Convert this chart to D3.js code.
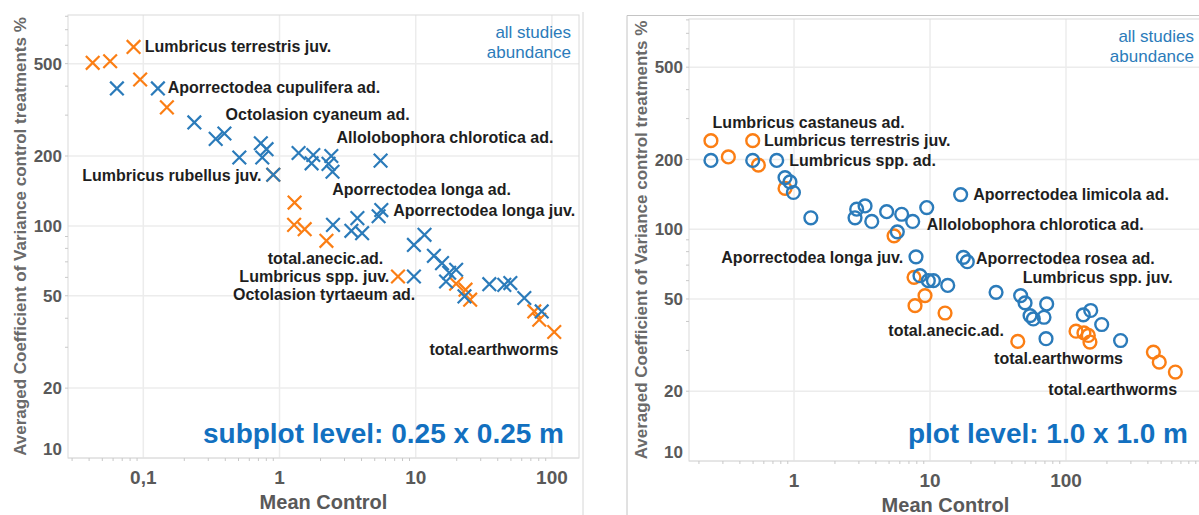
<!DOCTYPE html>
<html>

<head>
    <title>Earthworm CV vs Mean Control</title>
    <script src="https://cdn.jsdelivr.net/npm/d3@7"></script>
    <style>
        body {
            margin: 0;
            background: #fff;
        }

        svg text {
            font-family: Arial, "Liberation Sans", sans-serif;
        }
    </style>
</head>

<body>
    <div id="svg"></div>
    <script>
        // subplot level 0.25 x 0.25 m  -  [mean control, averaged CV %]
        var subplotBlue = [
            [0.064, 391], [0.128, 391], [0.237, 279], [0.340, 237], [0.394, 250], [0.507, 197],
            [0.729, 227], [0.803, 214], [0.747, 197], [0.90, 166], [1.38, 206], [1.77, 202],
            [1.72, 186], [2.40, 200], [2.29, 185], [2.45, 171], [5.52, 191], [2.47, 101],
            [3.37, 95.2], [3.73, 108], [4.04, 93.0], [5.34, 110], [5.59, 117], [9.70, 82.8],
            [11.6, 91.5], [9.70, 60.5], [13.6, 74.3], [15.6, 69.1], [16.7, 57.6], [17.6, 62.8],
            [19.8, 64.7], [22.8, 49.7], [34.7, 56.1], [44.7, 55.7], [49.5, 56.7], [62.7, 48.9],
            [84.1, 42.8]
        ];
        var subplotOrange = [
            [0.0425, 504], [0.0571, 512], [0.0848, 590], [0.0948, 427], [0.149, 324], [0.90, 166],
            [1.29, 126], [1.28, 101], [1.53, 96.8], [2.21, 86.2], [7.41, 60.5], [19.8, 56.3],
            [23.2, 53.1], [25.1, 48.1], [74.2, 42.8], [80.7, 39.4], [104, 34.9]
        ];
        var subplotLabels = [
            ["Lumbricus terrestris juv.", 0.1026, 594, "start"],
            ["Aporrectodea cupulifera ad.", 0.151, 396, "start"],
            ["Octolasion cyaneum ad.", 0.402, 303, "start"],
            ["Allolobophora chlorotica ad.", 2.62, 241, "start"],
            ["Lumbricus rubellus juv.", 0.738, 166, "end"],
            ["Aporrectodea longa ad.", 2.44, 144, "start"],
            ["Aporrectodea longa juv.", 6.84, 117, "start"],
            ["total.anecic.ad.", 5.78, 72.9, "end"],
            ["Lumbricus spp. juv.", 6.40, 60.5, "end"],
            ["Octolasion tyrtaeum ad.", 9.92, 51.0, "end"],
            ["total.earthworms", 12.6, 29.3, "start"]
        ];

        // plot level 1.0 x 1.0 m
        var plotBlue = [
            [0.245, 198], [0.497, 198], [0.746, 198], [0.859, 167], [0.934, 160], [0.99, 144],
            [1.33, 112], [2.81, 112], [2.89, 122], [3.33, 126], [3.73, 108], [4.80, 119],
            [6.19, 116], [7.46, 108], [9.46, 124], [5.75, 97.4], [7.89, 76.0], [8.44, 63.0],
            [9.72, 60.0], [10.6, 60.0], [13.5, 57.2], [16.8, 141], [17.6, 75.6], [18.8, 72.4],
            [30.6, 53.4], [46.4, 51.7], [50.0, 48.1], [72.1, 47.6], [54.4, 42.4], [57.5, 41.0],
            [68.9, 41.7], [71.3, 33.7], [134, 42.7], [152, 44.6], [183, 38.8], [252, 33.1]
        ];
        var plotOrange = [
            [0.245, 241], [0.497, 241], [0.329, 205], [0.547, 189], [0.859, 150], [5.44, 93.6],
            [7.63, 62.0], [9.19, 51.7], [7.76, 46.8], [12.9, 43.5], [44.2, 32.8], [118.5, 36.3],
            [135.5, 35.7], [145.9, 34.8], [150, 32.6], [439, 29.5], [485, 26.7], [637, 24.2]
        ];
        var plotLabels = [
            ["Lumbricus castaneus ad.", 0.252, 289, "start"],
            ["Lumbricus terrestris juv.", 0.602, 242, "start"],
            ["Lumbricus spp. ad.", 0.923, 198, "start"],
            ["Aporrectodea limicola ad.", 20.8, 142, "start"],
            ["Allolobophora chlorotica ad.", 9.46, 105, "start"],
            ["Aporrectodea longa juv.", 6.36, 75.5, "end"],
            ["Aporrectodea rosea ad.", 21.8, 75.0, "start"],
            ["Lumbricus spp. juv.", 48.1, 62.0, "start"],
            ["total.anecic.ad.", 4.94, 36.5, "start"],
            ["total.earthworms", 29.6, 27.8, "start"],
            ["total.earthworms", 74.1, 20.3, "start"]
        ];

        var yTicks = [10, 20, 50, 100, 200, 500];
        var subplotXTicks = [0.1, 1, 10, 100];
        var subplotXTickLabels = ["0,1", "1", "10", "100"];
        var plotXTicks = [1, 10, 100];
        var plotXTickLabels = ["1", "10", "100"];

        var blue = "#2b7bba", orange = "#fb7e14", titleBlue = "#1270c0", grey = "#595959";

        var svg = d3.select("#svg")
            .append("svg")
            .attr("width", 1199)
            .attr("height", 515);

        // panel borders
        svg.append("line").attr("x1", 583).attr("x2", 583).attr("y1", 12).attr("y2", 515)
            .style("stroke", "#d6d6d6");
        svg.append("path").attr("d", "M627,515V15.5H1199")
            .style("fill", "none").style("stroke", "#c4c4c4");

        function drawPanel(p) {
            var x = d3.scaleLog().domain(p.xDomain).range([p.left, p.right]);
            var y = d3.scaleLog().domain(p.yDomain).range([p.bottom, p.top]);
            var g = svg.append("g");

            var minorX = [], minorY = [];
            [0.01, 0.1, 1, 10, 100, 1000].forEach(function (d) {
                for (var k = 2; k < 10; k++) {
                    if (d * k > p.xDomain[0] && d * k < p.xDomain[1]) minorX.push(d * k);
                    if (d * k > p.yDomain[0] && d * k < p.yDomain[1]) minorY.push(d * k);
                }
            });

            // grid
            g.selectAll(".gx").data(p.xTicks).enter().append("line")
                .attr("x1", function (d) { return x(d) }).attr("x2", function (d) { return x(d) })
                .attr("y1", p.top).attr("y2", p.bottom)
                .style("stroke", "#ececec").style("stroke-width", 1.5);
            g.selectAll(".gy").data(yTicks).enter().append("line")
                .attr("x1", p.left).attr("x2", p.right)
                .attr("y1", function (d) { return y(d) }).attr("y2", function (d) { return y(d) })
                .style("stroke", "#ececec").style("stroke-width", 1.5);

            // frame
            g.append("rect").attr("x", p.left).attr("y", p.top)
                .attr("width", p.right - p.left).attr("height", p.bottom - p.top)
                .style("fill", "none").style("stroke", "#dadada");

            // minor ticks
            g.selectAll(".mx").data(minorX).enter().append("line")
                .attr("x1", function (d) { return x(d) }).attr("x2", function (d) { return x(d) })
                .attr("y1", p.bottom).attr("y2", p.bottom + 3)
                .style("stroke", "#c8c8c8");
            g.selectAll(".my").data(minorY).enter().append("line")
                .attr("x1", p.left - 3).attr("x2", p.left)
                .attr("y1", function (d) { return y(d) }).attr("y2", function (d) { return y(d) })
                .style("stroke", "#c8c8c8");

            // tick labels
            g.selectAll(".ty").data(yTicks).enter().append("text")
                .attr("x", p.left - 6)
                .attr("y", function (d) { return d === p.yDomain[0] ? y(d) - 9 : y(d) })
                .attr("dy", "0.36em")
                .style("text-anchor", "end").style("font-size", "17px").style("font-weight", "bold")
                .style("fill", grey)
                .text(function (d) { return d });
            g.selectAll(".tx").data(p.xTicks).enter().append("text")
                .attr("x", function (d) { return x(d) })
                .attr("y", p.bottom + 26)
                .style("text-anchor", "middle").style("font-size", "19px").style("font-weight", "bold")
                .style("fill", grey)
                .text(function (d, i) { return p.xTickLabels[i] });

            // axis titles
            g.append("text")
                .attr("x", (p.left + p.right) / 2).attr("y", p.bottom + 51)
                .style("text-anchor", "middle").style("font-size", "20px").style("font-weight", "bold")
                .style("fill", grey)
                .text("Mean Control");
            g.append("text")
                .attr("transform", "translate(" + p.titleX + "," + (p.top + p.bottom) / 2 + ") rotate(-90)")
                .style("text-anchor", "middle").style("font-size", "17px").style("font-weight", "bold")
                .style("fill", "#6a6a6a")
                .text("Averaged Coefficient of Variance control treatments %");

            // marks: orange first, blue on top
            if (p.shape === "x") {
                var cross = function (sel, color) {
                    sel.enter().append("path")
                        .attr("d", function (d) {
                            var cx = x(d[0]), cy = y(d[1]), s = 6.8;
                            return "M" + (cx - s) + "," + (cy - s) + "L" + (cx + s) + "," + (cy + s) +
                                "M" + (cx - s) + "," + (cy + s) + "L" + (cx + s) + "," + (cy - s);
                        })
                        .style("fill", "none").style("stroke", color).style("stroke-width", 2.2);
                };
                cross(g.selectAll(".o").data(p.orange), orange);
                cross(g.selectAll(".b").data(p.blue), blue);
            } else {
                var ring = function (sel, color) {
                    sel.enter().append("circle")
                        .attr("cx", function (d) { return x(d[0]) })
                        .attr("cy", function (d) { return y(d[1]) })
                        .attr("r", 6.4)
                        .style("fill", "none").style("stroke", color).style("stroke-width", 2.4);
                };
                ring(g.selectAll(".o").data(p.orange), orange);
                ring(g.selectAll(".b").data(p.blue), blue);
            }

            // point labels
            g.selectAll(".lab").data(p.labels).enter().append("text")
                .attr("x", function (d) { return x(d[1]) })
                .attr("y", function (d) { return y(d[2]) })
                .attr("dy", "0.36em")
                .style("text-anchor", function (d) { return d[3] })
                .style("font-size", "16px").style("font-weight", "bold").style("fill", "#1e1e1e")
                .text(function (d) { return d[0] });

            // notes
            g.append("text").attr("x", p.right - 8).attr("y", p.top + 17)
                .attr("dy", "0.36em")
                .style("text-anchor", "end").style("font-size", "17px").style("fill", blue)
                .text("all studies");
            g.append("text").attr("x", p.right - 8).attr("y", p.top + 37)
                .attr("dy", "0.36em")
                .style("text-anchor", "end").style("font-size", "17px").style("fill", blue)
                .text("abundance");
            g.append("text").attr("x", p.levelX).attr("y", 443)
                .style("text-anchor", "end").style("font-size", "28px").style("font-weight", "bold")
                .style("fill", titleBlue)
                .text(p.level);
        }

        drawPanel({
            left: 68, right: 579, top: 15, bottom: 458,
            xDomain: [0.028, 158], yDomain: [10, 810],
            xTicks: subplotXTicks, xTickLabels: subplotXTickLabels,
            blue: subplotBlue, orange: subplotOrange, labels: subplotLabels,
            shape: "x", titleX: 26, levelX: 564,
            level: "subplot level: 0.25 x 0.25 m"
        });

        drawPanel({
            left: 689, right: 1202, top: 19, bottom: 461,
            xDomain: [0.169, 1000], yDomain: [10, 807],
            xTicks: plotXTicks, xTickLabels: plotXTickLabels,
            blue: plotBlue, orange: plotOrange, labels: plotLabels,
            shape: "o", titleX: 647, levelX: 1188,
            level: "plot level: 1.0 x 1.0 m"
        });
    </script>

</body>

</html>
